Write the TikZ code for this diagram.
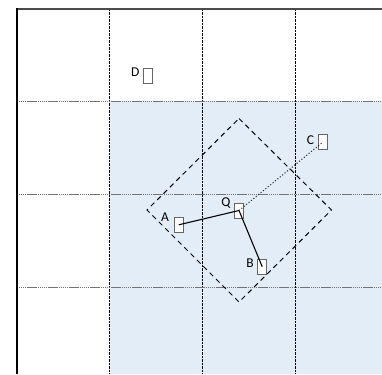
\documentclass[tikz,border=0pt]{standalone}
\usepackage{fontspec}
\setmainfont{Carlito}
\begin{document}
\begin{tikzpicture}[x=1pt,y=-1pt,
  gridv/.style={black, line width=0.7pt, dash pattern=on 2.5pt off 1pt},
  gridh/.style={black!55, line width=0.9pt, dash pattern=on 1.5pt off 0.6pt},
  box/.style={draw=black!60, fill=white, line width=1pt, minimum width=9pt, minimum height=15pt, inner sep=0pt},
  lbl/.style={anchor=base, inner sep=0pt, font=\fontsize{13.5}{15}\selectfont},
  conn/.style={black, line width=1.1pt}]
\useasboundingbox (0,0) rectangle (382,374);
\fill[white] (0,0) rectangle (382,374);
\fill[fill={rgb,255:red,227;green,237;blue,247}] (109.5,101.5) rectangle (382,374);
% grid
\foreach \x in {109.5,202.5,295.5} \draw[gridv] (\x,9) -- (\x,374);
\foreach \y in {101.5,194.5,287.5} \draw[gridh] (16.5,\y) -- (382,\y);
% frame
\draw[black!70, line width=2pt] (16.5,9) -- (382,9);
\draw[black, line width=2pt] (16.5,8) -- (16.5,374);
% diamond
\coordinate (dt) at (239,118.5);
\coordinate (dr) at (331.5,210);
\coordinate (db) at (239,302);
\coordinate (dl) at (147,210);
\draw[black, line width=1pt, dash pattern=on 5pt off 4pt] (dt) -- (dr) -- (db) -- (dl) -- cycle;
% boxes
\node[box] (A) at (178.8,224.8) {};
\node[box] (Q) at (239,210.5) {};
\node[box] (B) at (262.2,266.7) {};
\node[box] (C) at (323,142) {};
\node[box] (D) at (148.3,76.3) {};
% labels
\node[lbl] (lA) at (165,221.7) {A};
\node[lbl] (lQ) at (226,206.7) {Q};
\node[lbl] (lB) at (250,267.3) {B};
\node[lbl] (lC) at (310.5,144.3) {C};
\node[lbl] (lD) at (135.3,76.7) {D};
% connectors
\draw[conn] (A.center) -- (Q.center);
\draw[conn] (Q.center) -- (B.center);
\draw[black!80, line width=1.1pt, dotted] (Q.center) -- (C.center);
\end{tikzpicture}
\end{document}
